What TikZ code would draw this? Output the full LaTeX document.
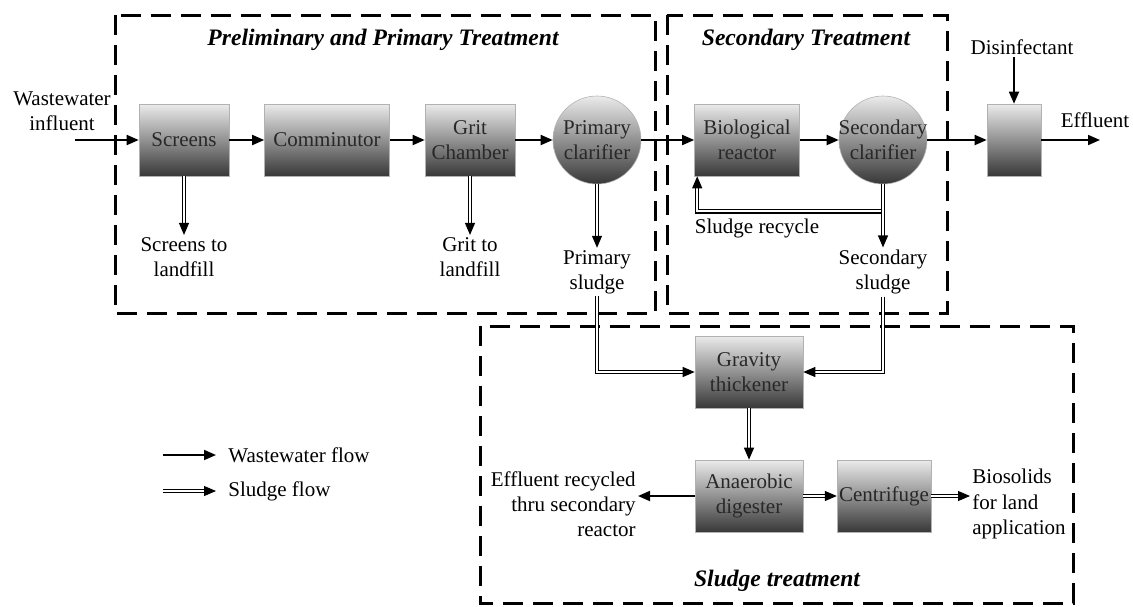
\documentclass[tikz,border=0pt]{standalone}
\usepackage{fontspec}
\setmainfont{Liberation Serif}
\usetikzlibrary{arrows.meta, positioning, calc}
\definecolor{txtdark}{RGB}{40,40,40}
\tikzset{
  unit/.style={rectangle, draw=black!30, line width=0.3pt,
    top color=black!8, bottom color=black!78,
    minimum width=45pt, minimum height=36pt, align=center,
    text=txtdark, inner sep=1pt},
  clar/.style={circle, draw=black!30, line width=0.3pt,
    top color=black!8, bottom color=black!78,
    minimum size=44pt, inner sep=-7pt, align=center, text=txtdark},
  lbl/.style={align=center, inner sep=1pt},
  frame/.style={line width=1.5pt, dash pattern=on 10pt off 5pt},
  title/.style={font=\fontsize{11.8}{14}\selectfont\bfseries\itshape},
  flow/.style={-{Triangle[length=6pt,width=5pt]}, line width=0.9pt},
  sludge/.style={-{Triangle[length=6pt,width=5pt]}, double=white,
    double distance=1.1pt, line width=0.55pt}
}

\begin{document}
\begin{tikzpicture}[x=0.5pt, y=-0.5pt, font=\fontsize{10.5}{12.6}\selectfont]
  \useasboundingbox (0,0) rectangle (1133,606);

  % Treatment stages
  \draw[frame] (115,15) rectangle (655,313);
  \draw[frame] (667,15) rectangle (947,313);
  \draw[frame] (480,326) rectangle (1073,603);
  \node[title] (t1) at (383,40) {Preliminary and Primary Treatment};
  \node[title] (t2) at (806,40) {Secondary Treatment};
  \node[title] (t3) at (777,581) {Sludge treatment};

  % Units
  \node[unit] (scr) at (184,140) {Screens};
  \node[unit, minimum width=62.5pt] (com) at (327,140) {Comminutor};
  \node[unit] (grit) at (470,140) {Grit\\Chamber};
  \node[clar] (pc) at (597,140) {Primary\\clarifier};
  \node[unit, minimum width=52.5pt] (bio) at (747,140) {Biological\\reactor};
  \node[clar] (sc) at (883,140) {Secondary\\clarifier};
  \node[unit, minimum width=27pt] (dbox) at (1014,140) {};
  \node[unit, minimum width=54pt] (gt) at (749,372) {Gravity\\thickener};
  \node[unit, minimum width=54pt] (ad) at (749,496) {Anaerobic\\digester};
  \node[unit] (cf) at (884,496) {Centrifuge};

  % Labels
  \node[lbl] (win) at (62,111) {Wastewater\\influent};
  \coordinate (inflow) at (75,140);
  \node[lbl] (dis) at (1022,47) {Disinfectant};
  \node[lbl] (eff) at (1095,120) {Effluent};
  \coordinate (outflow) at (1100,140);
  \node[lbl] (stl) at (184,257) {Screens to\\landfill};
  \node[lbl] (gtl) at (470,257) {Grit to\\landfill};
  \node[lbl] (psl) at (597,272) {Primary\\sludge};
  \node[lbl] (ssl) at (883,272) {Secondary\\sludge};
  \node[lbl] (rcl) at (757,228) {Sludge recycle};
  \node[lbl, anchor=east, align=right] (erl) at (638,504) {Effluent recycled\\thru secondary\\reactor};
  \node[lbl, anchor=west, align=left] (bsl) at (970,504) {Biosolids\\for land\\application};

  % Wastewater flow
  \draw[flow] (inflow) -- (scr);
  \draw[flow] (scr) -- (com);
  \draw[flow] (com) -- (grit);
  \draw[flow] (grit) -- (pc);
  \draw[flow] (pc) -- (bio);
  \draw[flow] (bio) -- (sc);
  \draw[flow] (sc) -- (dbox);
  \draw[flow] (dbox) -- (outflow);
  \draw[flow] (dis.south -| dbox.north) -- (dbox.north);
  \draw[flow] (ad.west) -- (ad.west -| erl.east);

  % Sludge flow
  \coordinate (rb) at ($(sc.south)+(0,27)$);
  \draw[sludge] (scr) -- (stl);
  \draw[sludge] (grit) -- (gtl);
  \draw[sludge] (pc) -- (psl);
  \draw[sludge] (rb) -| ([xshift=1.5pt]bio.south west);
  \draw[sludge] (sc) -- (ssl);
  \draw[sludge] (psl.south) |- (gt.west);
  \draw[sludge] (ssl.south) |- (gt.east);
  \draw[sludge] (gt) -- (ad);
  \draw[sludge] (ad) -- (cf);
  \draw[sludge] (cf.east) -- (cf.east -| bsl.west);

  % Legend
  \node[lbl, anchor=west] (lgw) at (226,455) {Wastewater flow};
  \node[lbl, anchor=west] (lgs) at (226,491) {Sludge flow};
  \coordinate (lw) at (163,455);
  \coordinate (ls) at (163,491);
  \draw[flow] (lw) -- ([xshift=-5pt]lgw.west);
  \draw[sludge] (ls) -- ([xshift=-5pt]lgs.west);
\end{tikzpicture}
\end{document}
